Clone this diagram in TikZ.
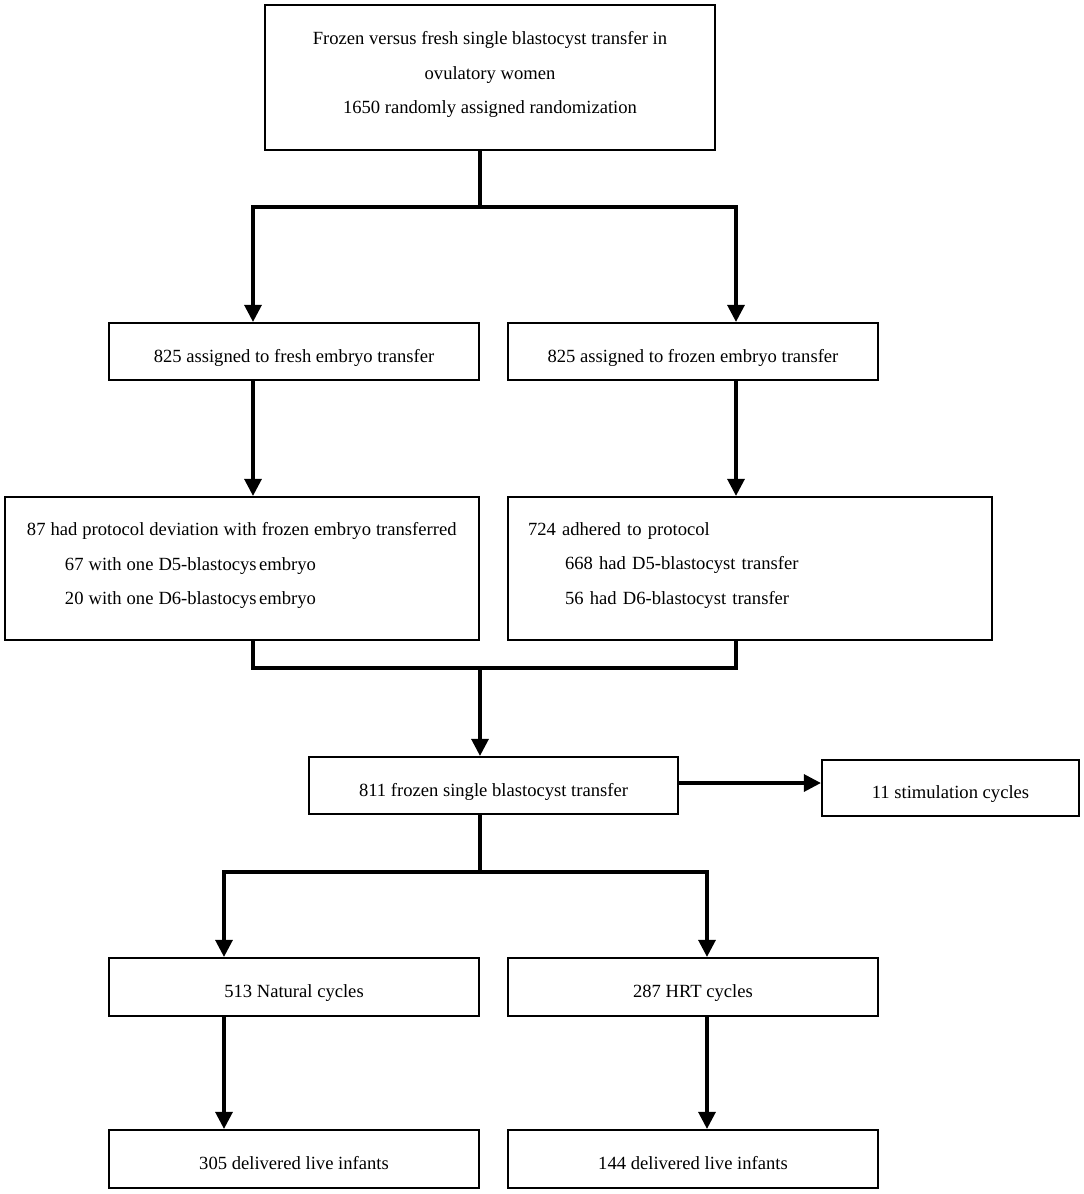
\documentclass[tikz,border=0pt]{standalone}
\usepackage{fontspec}
\setmainfont{Liberation Serif}
\usetikzlibrary{arrows.meta}
\begin{document}
\begin{tikzpicture}[x=1pt,y=-1pt,
  box/.style={draw,line width=2.2pt,inner sep=0pt,font=\fontsize{18.6}{34.5}\selectfont},
  one/.style={box,text height=21pt,text depth=0pt},
  multi/.style={box,text depth=10pt},
  para/.style={box,align=left,text depth=79pt},
  conn/.style={line width=3.2pt},
  arr/.style={conn,-{Triangle[length=17pt,width=17pt]}}]
\useasboundingbox (0,0) rectangle (1084,1194);
\node[multi,minimum width=450pt,minimum height=145pt,align=center] (top) at (490,77.5)
  {Frozen versus fresh single blastocyst transfer in\\ovulatory women\\1650 randomly assigned randomization};
\node[one,minimum width=370pt,minimum height=57pt] (fresh) at (294,351.5) {825 assigned to fresh embryo transfer};
\node[one,minimum width=370pt,minimum height=57pt] (frozen) at (693,351.5) {825 assigned to frozen embryo transfer};
\node[para,minimum width=474pt,minimum height=143pt,text width=430pt,inner xsep=22pt] (dev) at (242,568.5)
  {\spaceskip=5pt\mbox{87 had protocol deviation with frozen embryo transferred}\\
   \hspace*{38pt}67 with one D5-blastocys\hspace{2.5pt}embryo\\
   \hspace*{38pt}20 with one D6-blastocys\hspace{2.5pt}embryo};
\node[para,minimum width=484pt,minimum height=143pt,text width=444pt,inner xsep=20pt] (adh) at (750,568.5)
  {724 adhered to protocol\\
   \hspace*{37pt}668 had D5-blastocyst transfer\\
   \hspace*{37pt}56 had D6-blastocyst transfer};
\node[one,minimum width=369pt,minimum height=57pt] (fst) at (493.5,785.5) {811 frozen single blastocyst transfer};
\node[one,minimum width=257pt,minimum height=56pt] (stim) at (950.5,788) {11 stimulation cycles};
\node[one,minimum width=370pt,minimum height=58pt] (nat) at (294,987) {513 Natural cycles};
\node[one,minimum width=370pt,minimum height=58pt] (hrt) at (693,987) {287 HRT cycles};
\node[one,minimum width=370pt,minimum height=58pt] (liveA) at (294,1159) {305 delivered live infants};
\node[one,minimum width=370pt,minimum height=58pt] (liveB) at (693,1159) {144 delivered live infants};
% junction 1
\coordinate (j1) at (480,207);
\coordinate (j1L) at (253,207);
\coordinate (j1R) at (736,207);
\draw[conn] (top.south -| j1) -- (j1);
\draw[conn,line cap=rect] (j1L) -- (j1R);
\draw[arr] (j1L) -- (j1L |- fresh.north);
\draw[arr] (j1R) -- (j1R |- frozen.north);
\draw[arr] (fresh.south -| j1L) -- (dev.north -| j1L);
\draw[arr] (frozen.south -| j1R) -- (adh.north -| j1R);
% junction 2
\coordinate (j2) at (480,668);
\coordinate (j2L) at (253,668);
\coordinate (j2R) at (736,668);
\draw[conn,line join=miter] (dev.south -| j2L) -- (j2L) -- (j2R) -- (adh.south -| j2R);
\draw[arr] (j2) -- (fst.north -| j2);
\coordinate (sa) at (678,783);
\draw[arr] (sa) -- (sa -| stim.west);
% junction 3
\coordinate (j3) at (480,872);
\coordinate (j3L) at (224,872);
\coordinate (j3R) at (707,872);
\draw[conn] (fst.south -| j3) -- (j3);
\draw[conn,line cap=rect] (j3L) -- (j3R);
\draw[arr] (j3L) -- (j3L |- nat.north);
\draw[arr] (j3R) -- (j3R |- hrt.north);
\draw[arr] (nat.south -| j3L) -- (liveA.north -| j3L);
\draw[arr] (hrt.south -| j3R) -- (liveB.north -| j3R);
\end{tikzpicture}
\end{document}
